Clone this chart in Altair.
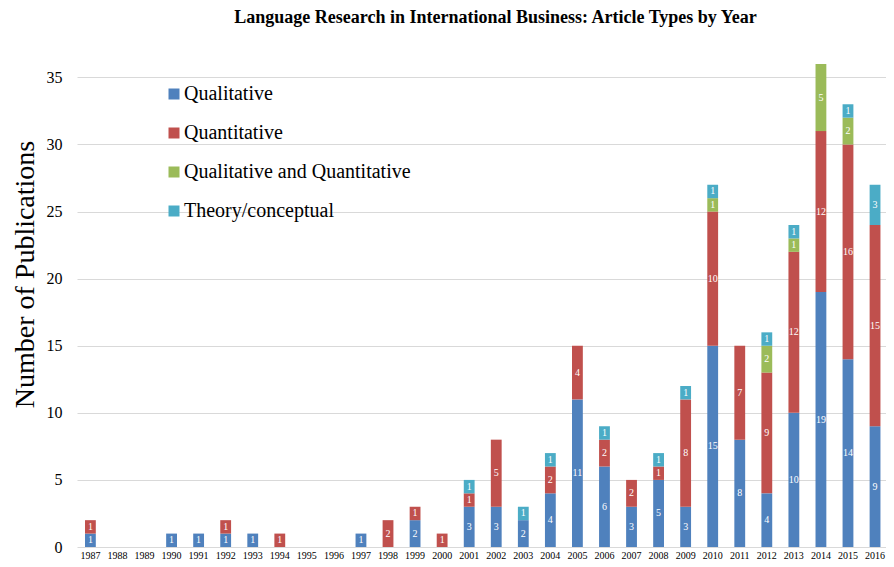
import altair as alt
import pandas as pd

years = [str(y) for y in range(1987, 2017)]
qualitative =   [1,0,0,1,1,1,1,0,0,0,1,0,2,0,3,3,2,4,11,6,3,5,3,15,8,4,10,19,14,9]
quantitative =  [1,0,0,0,0,1,0,1,0,0,0,2,1,1,1,5,0,2,4,2,2,1,8,10,7,9,12,12,16,15]
qual_quant =    [0,0,0,0,0,0,0,0,0,0,0,0,0,0,0,0,0,0,0,0,0,0,0,1,0,2,1,5,2,0]
theory =        [0,0,0,0,0,0,0,0,0,0,0,0,0,0,1,0,1,1,0,1,0,1,1,1,0,1,1,0,1,3]

series_names = ["Qualitative", "Quantitative", "Qualitative and Quantitative", "Theory/conceptual"]
series_values = [qualitative, quantitative, qual_quant, theory]
colors = ["#4F81BD", "#C0504D", "#9BBB59", "#4BACC6"]

rows = []
for si, (name, vals) in enumerate(zip(series_names, series_values)):
    for y, v in zip(years, vals):
        if v > 0:
            rows.append({"year": y, "type": name, "order": si, "value": v})
df = pd.DataFrame(rows)

FONT = "Liberation Serif"

base = alt.Chart(df).transform_stack(
    stack="value", groupby=["year"], sort=[alt.SortField("order")], as_=["y0", "y1"]
).transform_calculate(mid="(datum.y0 + datum.y1) / 2")

xscale = alt.Scale(domain=years, paddingInner=0.6, paddingOuter=0.25, align=0.59)

xenc = alt.X("year:N", sort=years, title=None, scale=xscale,
             axis=alt.Axis(labelAngle=0, labelFont=FONT, labelFontSize=10, labelColor="#000000",
                           domain=False, ticks=False, labelPadding=3))

bars = base.mark_bar().encode(
    x=xenc,
    y=alt.Y("y0:Q", title="Number of Publications",
            scale=alt.Scale(domain=[0, 36], nice=False),
            axis=alt.Axis(values=[0, 5, 10, 15, 20, 25, 30, 35], domain=False, ticks=False,
                          gridColor="#D9D9D9", labelFont=FONT, labelFontSize=16,
                          labelColor="#000000", labelPadding=15,
                          titleFont=FONT, titleFontSize=28, titleFontWeight="normal",
                          titleColor="#000000", titleY=210, titleX=-44,
                          titleBaseline="alphabetic", titleAlign="center", titleAngle=-90)),
    y2="y1:Q",
    color=alt.Color("type:N", sort=series_names,
                    scale=alt.Scale(domain=series_names, range=colors),
                    legend=alt.Legend(title=None, orient="none", legendX=87, legendY=20,
                                      padding=0, offset=0,
                                      symbolType="square", symbolSize=121, symbolStrokeWidth=0,
                                      labelFont=FONT, labelFontSize=20, labelColor="#000000",
                                      rowPadding=19, labelOffset=0, labelLimit=400)),
    order=alt.Order("order:Q"),
)

labels = base.mark_text(font=FONT, fontSize=10, color="white").encode(
    x=alt.X("year:N", sort=years, scale=xscale),
    y=alt.Y("mid:Q"),
    text=alt.Text("value:Q"),
)

chart = alt.layer(bars, labels).properties(
    width=809, height=483,
    padding={"left": 69, "top": 56, "right": 0, "bottom": 12},
    autosize=alt.AutoSizeParams(type="none"),
    title=alt.TitleParams("Language Research in International Business: Article Types by Year",
                          font=FONT, fontSize=18, fontWeight="bold", color="#000000",
                          offset=37, dx=14),
).configure(font=FONT).configure_legend(labelFont=FONT).configure_view(stroke=None)

chart.save("out.html", embed_options={"renderer": "svg", "actions": False})
